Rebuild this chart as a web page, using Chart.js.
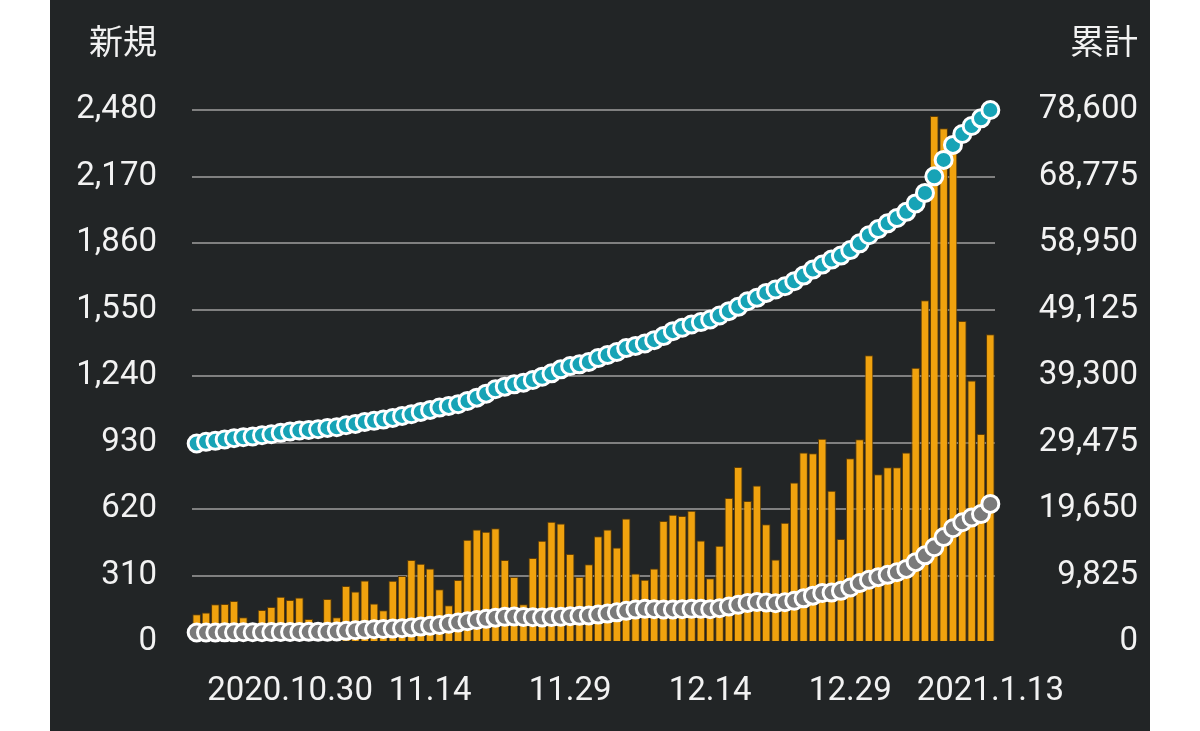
<!DOCTYPE html>
<html lang="ja">
<head>
  <meta charset="UTF-8">
  <title>新規・累計</title>
  <style>
    body {
      margin: 0;
      background: #ffffff;
      font-family: Roboto, "Noto Sans CJK JP", sans-serif;
    }
    .panel {
      position: absolute;
      left: 50px;
      top: 0;
      width: 1100px;
      height: 731px;
      background: #222526;
    }
    .axis-title {
      position: absolute;
      top: 22px;
      font-size: 34px;
      line-height: 36px;
      color: #f2f2f2;
      font-family: "Noto Sans CJK JP", sans-serif;
    }
    #titleLeft { right: 993px; }
    #titleRight { right: 12px; }
  </style>
</head>
<body>
  <div class="panel">
    <canvas id="chart" width="1100" height="731"></canvas>
    <div class="axis-title" id="titleLeft">新規</div>
    <div class="axis-title" id="titleRight">累計</div>
  </div>

  <script src="https://cdn.jsdelivr.net/npm/chart.js"></script>
  <script>
    // 2020.10.20 - 2021.1.13
    const dates = [
      '10.20','10.21','10.22','10.23','10.24','10.25','10.26','10.27','10.28','10.29','10.30','10.31',
      '11.1','11.2','11.3','11.4','11.5','11.6','11.7','11.8','11.9','11.10','11.11','11.12','11.13','11.14',
      '11.15','11.16','11.17','11.18','11.19','11.20','11.21','11.22','11.23','11.24','11.25','11.26','11.27','11.28','11.29','11.30',
      '12.1','12.2','12.3','12.4','12.5','12.6','12.7','12.8','12.9','12.10','12.11','12.12','12.13','12.14',
      '12.15','12.16','12.17','12.18','12.19','12.20','12.21','12.22','12.23','12.24','12.25','12.26','12.27','12.28','12.29','12.30','12.31',
      '1.1','1.2','1.3','1.4','1.5','1.6','1.7','1.8','1.9','1.10','1.11','1.12','1.13'
    ];

    const xTickDates = ['10.30', '11.14', '11.29', '12.14', '12.29', '1.13'];
    const xTickTexts = ['2020.10.30', '11.14', '11.29', '12.14', '12.29', '2021.1.13'];

    // 新規 (left axis)
    const newCases = [
      129, 137, 176, 177, 191, 115, 70, 149, 163, 211, 196, 208,
      107, 60, 200, 115, 261, 235, 287, 180, 148, 286, 308, 382, 365, 343,
      246, 171, 289, 477, 524, 514, 530, 382, 303, 176, 392, 472, 561, 552, 410, 303,
      362, 493, 525, 441, 576, 319, 290, 343, 564, 593, 587, 612, 473, 297,
      449, 671, 816, 657, 730, 549, 385, 556, 743, 883, 880, 948, 705, 480, 857, 945, 1337,
      782, 815, 815, 883, 1278, 1593, 2452, 2395, 2290, 1496, 1219, 970, 1435
    ];

    // 累計 (right axis)
    const totalCases = [
      29330, 29575, 29720, 29920, 30115, 30260, 30360, 30555, 30700, 30900, 31095, 31245,
      31340, 31440, 31635, 31735, 32030, 32225, 32520, 32670, 32865, 33110, 33405, 33650, 33995, 34290,
      34635, 34880, 35125, 35615, 36105, 36695, 37335, 37730, 38070, 38320, 38710, 39200, 39690, 40285, 40775, 41020,
      41365, 41950, 42400, 42850, 43420, 43750, 44100, 44600, 45195, 45930, 46425, 46915, 47260, 47650,
      48240, 48880, 49520, 50350, 50845, 51580, 52075, 52565, 53300, 54135, 55020, 55760, 56500, 57085, 57900, 58900, 60100,
      61000, 61850, 62650, 63550, 64800, 66350, 68800, 71230, 73440, 75060, 76240, 77370, 78600
    ];

    // grey series (right axis)
    const greySeries = [
      1400, 1410, 1420, 1430, 1430, 1440, 1440, 1450, 1460, 1470, 1480, 1490,
      1500, 1500, 1520, 1560, 1650, 1740, 1820, 1880, 1930, 1980, 2040, 2160, 2280, 2400,
      2520, 2700, 2880, 3060, 3250, 3420, 3600, 3720, 3760, 3700, 3650, 3620, 3680, 3740, 3800, 3860,
      3920, 4050, 4200, 4380, 4600, 4800, 4900, 4850, 4800, 4820, 4850, 4900, 4920, 4850,
      5000, 5250, 5500, 5780, 5900, 5850, 5720, 5880, 6090, 6450, 6850, 7250, 7300, 7560, 8050, 8700, 9200,
      9580, 9920, 10300, 10800, 11800, 12800, 14000, 15500, 16800, 17700, 18400, 18900, 20400
    ];

    const leftMax = 2480, leftStep = 310;
    const rightMax = 78600, rightStep = 9825;

    const textColor = '#f2f2f2';
    const tickFont = { family: 'Roboto', size: 33 };

    new Chart(document.getElementById('chart'), {
      data: {
        labels: dates,
        datasets: [
          {
            type: 'line',
            data: totalCases,
            yAxisID: 'y1',
            showLine: false,
            clip: false,
            pointRadius: 8.5,
            pointBorderWidth: 3,
            pointBackgroundColor: '#17a3b6',
            pointBorderColor: '#ffffff',
            order: 0
          },
          {
            type: 'line',
            data: greySeries,
            yAxisID: 'y1',
            showLine: false,
            clip: false,
            pointRadius: 8.5,
            pointBorderWidth: 3,
            pointBackgroundColor: '#7a7a7a',
            pointBorderColor: '#ffffff',
            order: 0
          },
          {
            type: 'bar',
            data: newCases,
            yAxisID: 'y',
            backgroundColor: '#f0a20e',
            borderColor: '#5e3d06',
            borderWidth: 1,
            barPercentage: 0.92,
            categoryPercentage: 1.0,
            order: 1
          }
        ]
      },
      options: {
        responsive: false,
        animation: false,
        locale: 'en-US',
        events: [],
        layout: { padding: { left: 24, right: 12, top: 110, bottom: 19 } },
        plugins: {
          legend: { display: false },
          tooltip: { enabled: false }
        },
        scales: {
          x: {
            offset: true,
            grid: { display: false, drawTicks: false },
            border: { display: false },
            afterFit: s => { s.height = 70; },
            ticks: {
              autoSkip: false,
              maxRotation: 0,
              minRotation: 0,
              padding: 30,
              color: textColor,
              font: tickFont,
              callback: function (value) {
                const k = xTickDates.indexOf(this.getLabelForValue(value));
                return k >= 0 ? xTickTexts[k] : '';
              }
            }
          },
          y: {
            position: 'left',
            min: 0,
            max: leftMax,
            afterFit: s => { s.width = 118; },
            grid: {
              drawTicks: false,
              lineWidth: 2,
              color: ctx => ctx.tick && ctx.tick.value === 0 ? 'rgba(0,0,0,0)' : '#808080'
            },
            border: { display: false },
            ticks: {
              stepSize: leftStep,
              padding: 35,
              color: textColor,
              font: tickFont,
              callback: v => v.toLocaleString('en-US')
            }
          },
          y1: {
            position: 'right',
            min: 0,
            max: rightMax,
            afterFit: s => { s.width = 143; },
            grid: { display: false, drawTicks: false },
            border: { display: false },
            ticks: {
              stepSize: rightStep,
              crossAlign: 'far',
              color: textColor,
              font: tickFont,
              callback: v => v.toLocaleString('en-US')
            }
          }
        }
      }
    });
  </script>
</body>
</html>
